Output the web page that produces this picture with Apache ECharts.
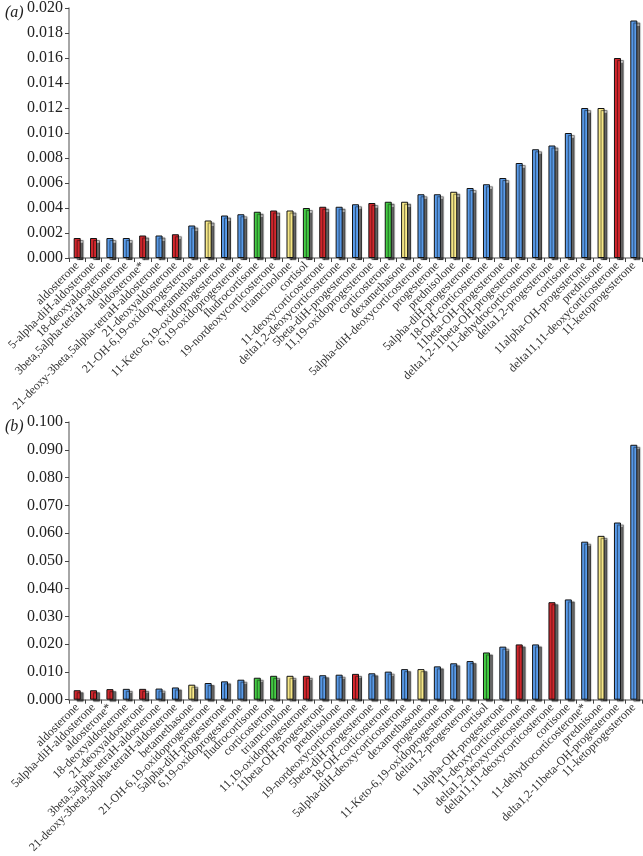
<!DOCTYPE html>
<html>
<head>
<meta charset="utf-8">
<title>steroid bars</title>
<script src="https://cdn.jsdelivr.net/npm/echarts@6/dist/echarts.min.js"></script>
<style>
    html, body { margin: 0; padding: 0; background: #fff; }
    #chart { width: 643px; height: 856px; }
</style>
</head>
<body>
<div id="chart"></div>
<script>
/* panel (a) */
var catsA = ['aldosterone', '5-alpha-diH-aldosterone', '18-deoxyaldosterone', '3beta,5alpha-tetraH-aldosterone',
    'aldosterone*', '21-deoxy-3beta,5alpha-tetraH-aldosterone', '21-deoxyaldosterone', '21-OH-6,19-oxidoprogesterone',
    'betamethasone', '11-Keto-6,19-oxidoprogesterone', '6,19-oxidoprogesterone', 'fludrocortisone',
    '19-nordeoxycorticosterone', 'triamcinolone', 'cortisol', '11-deoxycorticosterone', 'delta1,2-deoxycorticosterone',
    '5beta-diH-progesterone', '11,19-oxidoprogesterone', 'corticosterone', 'dexamethasone',
    '5alpha-diH-deoxycorticosterone', 'progesterone', 'prednisolone', '5alpha-diH-progesterone', '18-OH-corticosterone',
    '11beta-OH-progesterone', 'delta1,2-11beta-OH-progesterone', '11-dehydrocorticosterone', 'delta1,2-progesterone',
    'cortisone', '11alpha-OH-progesterone', 'prednisone', 'delta11,11-deoxycorticosterone', '11-ketoprogesterone'];
var valsA = [0.0016, 0.0016, 0.0016, 0.0016, 0.0018, 0.0018, 0.0019, 0.0026, 0.0030, 0.0034, 0.0035, 0.0037,
    0.0038, 0.0038, 0.0040, 0.0041, 0.0041, 0.0043, 0.0044, 0.0045, 0.0045, 0.0051, 0.0051, 0.0053, 0.0056,
    0.0059, 0.0064, 0.0076, 0.0087, 0.0090, 0.0100, 0.0120, 0.0120, 0.0160, 0.0190];
var groupsA = ['r', 'r', 'b', 'b', 'r', 'b', 'r', 'b', 'y', 'b', 'b', 'g', 'r', 'y', 'g', 'r', 'b', 'b', 'r', 'g',
    'y', 'b', 'b', 'y', 'b', 'b', 'b', 'b', 'b', 'b', 'b', 'b', 'y', 'r', 'b'];

/* panel (b) */
var catsB = ['aldosterone', '5alpha-diH-aldosterone', 'aldosterone*', '18-deoxyaldosterone', '21-deoxyaldosterone',
    '3beta,5alpha-tetraH-aldosterone', '21-deoxy-3beta,5alpha-tetraH-aldosterone', 'betamethasone',
    '21-OH-6,19-oxidoprogesterone', '5alpha-diH-progesterone', '6,19-oxidoprogesterone', 'fludrocortisone',
    'corticosterone', 'triamcinolone', '11,19-oxidoprogesterone', '11beta-OH-progesterone', 'prednisolone',
    '19-nordeoxycorticosterone', '5beta-diH-progesterone', '18-OH-corticosterone', '5alpha-diH-deoxycorticosterone',
    'dexamethasone', 'progesterone', '11-Keto-6,19-oxidoprogesterone', 'delta1,2-progesterone', 'cortisol',
    '11alpha-OH-progesterone', '11-deoxycorticosterone', 'delta1,2-deoxycorticosterone',
    'delta11,11-deoxycorticosterone', 'cortisone', '11-dehydrocorticosterone*', 'prednisone',
    'delta1,2-11beta-OH-progesterone', '11-ketoprogesterone'];
var valsB = [0.0034, 0.0034, 0.0038, 0.0039, 0.0039, 0.0040, 0.0044, 0.0054, 0.0060, 0.0066, 0.0072, 0.0079,
    0.0086, 0.0086, 0.0086, 0.0088, 0.0090, 0.0093, 0.0095, 0.0101, 0.0110, 0.0110, 0.0120, 0.0131, 0.0139,
    0.0170, 0.0191, 0.0199, 0.0199, 0.0351, 0.0361, 0.0569, 0.0590, 0.0638, 0.0918];
var groupsB = ['r', 'r', 'r', 'b', 'r', 'b', 'b', 'y', 'b', 'b', 'b', 'g', 'g', 'y', 'r', 'b', 'b', 'r', 'b', 'b',
    'b', 'y', 'b', 'b', 'b', 'g', 'b', 'r', 'b', 'r', 'b', 'b', 'y', 'b', 'b'];

var ticksA = { min: 0, max: 0.02, interval: 0.002 };
var ticksB = { min: 0, max: 0.1, interval: 0.01 };

(function () {
    'use strict';
    var palette = { r: '#d8282e', b: '#5b9ff0', y: '#fff08c', g: '#46d046' };
    var serif = '"Liberation Serif", "DejaVu Serif", serif';

    /*每根柱子的颜色*/
    function toBars(vals, groups) {
        return vals.map(function (v, i) {
            return {
                value: v,
                itemStyle: { color: palette[groups[i]] }
            };
        });
    }

    function xAxisOf(idx, cats) {
        return {
            type: 'category', gridIndex: idx, data: cats,
            axisLine: { lineStyle: { color: '#888', width: 1.5 } },
            axisTick: { show: true, length: 4, lineStyle: { color: '#444' } },
            axisLabel: {
                interval: 0, rotate: 45, margin: 6,
                fontFamily: serif, fontSize: 12, color: '#333'
            }
        };
    }

    function yAxisOf(idx, t) {
        return {
            type: 'value', gridIndex: idx, min: t.min, max: t.max, interval: t.interval,
            splitLine: { show: false },
            axisLine: { show: true, lineStyle: { color: '#888', width: 1.5 } },
            axisTick: { show: true, length: 4, lineStyle: { color: '#444' } },
            axisLabel: {
                margin: 6, fontFamily: serif, fontSize: 16, color: '#222',
                formatter: function (v) { return v.toFixed(3); }
            }
        };
    }

    function seriesOf(idx, vals, groups) {
        return {
            type: 'bar', xAxisIndex: idx, yAxisIndex: idx,
            barWidth: 7,
            data: toBars(vals, groups),
            itemStyle: {
                borderColor: '#111', borderWidth: 1,
                shadowColor: 'rgba(0,0,0,0.6)', shadowOffsetX: 3, shadowOffsetY: 2, shadowBlur: 1
            },
            silent: true
        };
    }

    var chart = echarts.init(document.getElementById('chart'), null, { renderer: 'canvas' });
    chart.setOption({
        animation: false,
        backgroundColor: '#fff',
        title: [
            { text: '(a)', left: 0, top: 0, textStyle: { fontFamily: serif, fontStyle: 'italic', fontWeight: 'normal', fontSize: 16, color: '#222' } },
            { text: '(b)', left: 0, top: 414, textStyle: { fontFamily: serif, fontStyle: 'italic', fontWeight: 'normal', fontSize: 16, color: '#222' } }
        ],
        grid: [
            { left: 69, right: 1, top: 7, bottom: 598 },
            { left: 69, right: 1, top: 422, bottom: 152 }
        ],
        xAxis: [xAxisOf(0, catsA), xAxisOf(1, catsB)],
        yAxis: [yAxisOf(0, ticksA), yAxisOf(1, ticksB)],
        series: [seriesOf(0, valsA, groupsA), seriesOf(1, valsB, groupsB)]
    });
})();
</script>
</body>
</html>
